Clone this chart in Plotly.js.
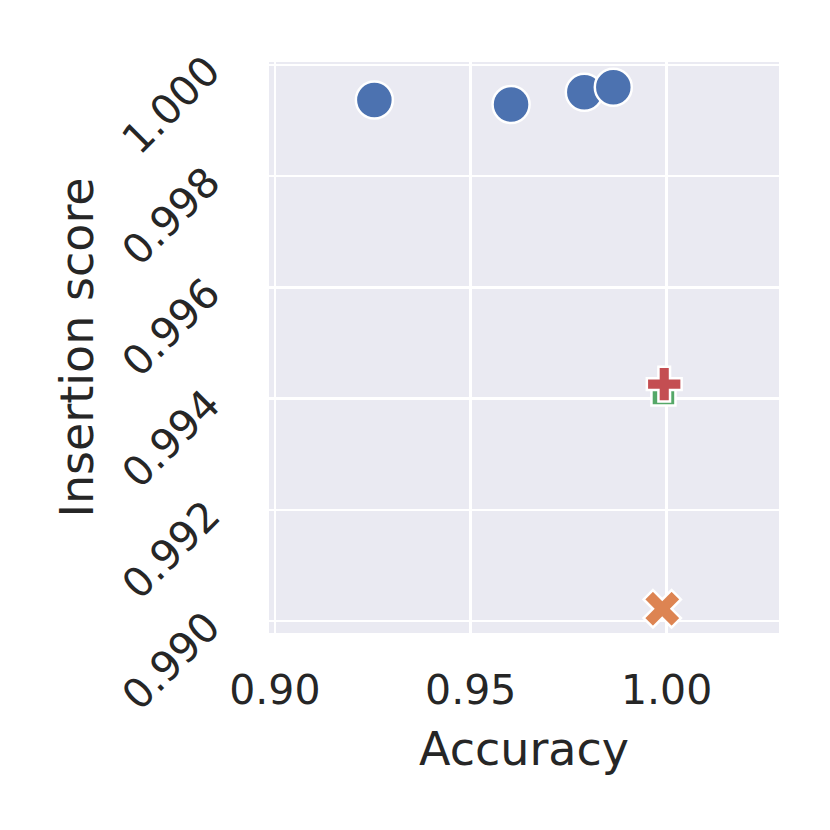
<!DOCTYPE html>
<html>
<head>
<meta charset="utf-8">
<script src="https://cdn.plot.ly/plotly-3.0.1.min.js"></script>
<style>html,body{margin:0;padding:0;background:#fff;}#chart{width:830px;height:830px;}</style>
</head>
<body>
<div id="chart"></div>
<script>
// Data
const blueAccuracy = [0.9254, 0.9603, 0.9790, 0.9864];
const blueInsertion = [0.99937, 0.99929, 0.99951, 0.99960];
const orangeAccuracy = [0.9989];
const orangeInsertion = [0.99022];
const greenAccuracy = [0.9992];
const greenInsertion = [0.99409];
const redAccuracy = [0.9994];
const redInsertion = [0.99426];
const xTickVals = [0.90, 0.95, 1.00];
const xTickText = ["0.90", "0.95", "1.00"];
const yTickVals = [0.990, 0.992, 0.994, 0.996, 0.998, 1.000];
const yTickText = ["0.990", "0.992", "0.994", "0.996", "0.998", "1.000"];

const edge = {color: "#ffffff", width: 2.5};
const traces = [
  {x: blueAccuracy, y: blueInsertion, type: "scatter", mode: "markers",
   marker: {symbol: "circle", size: 37, color: "#4c72b0", line: edge}},
  {x: orangeAccuracy, y: orangeInsertion, type: "scatter", mode: "markers",
   marker: {symbol: "x", size: 33, color: "#dd8452", line: edge}},
  {x: greenAccuracy, y: greenInsertion, type: "scatter", mode: "markers",
   marker: {symbol: "square", size: 24, color: "#55a868", line: edge}},
  {x: redAccuracy, y: redInsertion, type: "scatter", mode: "markers",
   marker: {symbol: "cross", size: 29, color: "#c44e52", line: edge}}
];

const font = {family: "DejaVu Sans, sans-serif", color: "#262626"};
const layout = {
  width: 830, height: 830,
  margin: {l: 269, r: 51, t: 62, b: 197, pad: 0},
  paper_bgcolor: "#ffffff",
  plot_bgcolor: "#eaeaf2",
  showlegend: false,
  font: font,
  xaxis: {
    range: [0.8985, 1.0287],
    tickvals: xTickVals, ticktext: xTickText,
    tickfont: {family: font.family, size: 41, color: "#262626"},
    showgrid: true, gridcolor: "#ffffff", gridwidth: 2.5,
    zeroline: false, showline: false, ticks: "",
    ticklabelstandoff: 29,
    title: {text: "Accuracy", font: {family: font.family, size: 46, color: "#262626"}, standoff: 19}
  },
  yaxis: {
    range: [0.989784, 1.000054],
    tickvals: yTickVals, ticktext: yTickText,
    tickangle: -45,
    tickfont: {family: font.family, size: 41, color: "#262626"},
    showgrid: true, gridcolor: "#ffffff", gridwidth: 2.5,
    zeroline: false, showline: false, ticks: "",
    ticklabelstandoff: 60,
    title: {text: "Insertion score", font: {family: font.family, size: 46, color: "#262626"}, standoff: 4}
  }
};
Plotly.newPlot("chart", traces, layout, {displayModeBar: false, staticPlot: true});
</script>
</body>
</html>
